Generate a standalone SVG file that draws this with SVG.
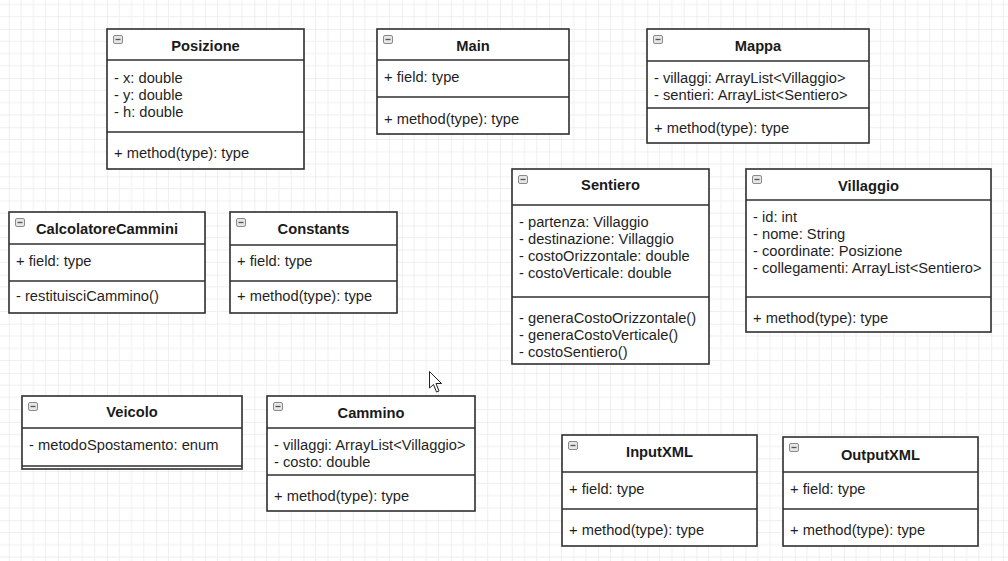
<svg xmlns="http://www.w3.org/2000/svg" width="1008" height="561" viewBox="0 0 1008 561">
<defs>
<style>
.box{fill:#ffffff;stroke:#2f2f2f;stroke-width:1.6}
.div{stroke:#2f2f2f;stroke-width:1.6}
.t{font-family:"Liberation Sans",Arial,sans-serif;font-size:14.7px;font-weight:bold;fill:#1a1a1a;text-anchor:middle}
.a{font-family:"Liberation Sans",Arial,sans-serif;font-size:14.7px;fill:#1f1f1f}
.ic{fill:#e6e6e6;stroke:#8a8a8a;stroke-width:1}
.icm{stroke:#555;stroke-width:1.3}
</style>
<pattern id="grid" x="8.76" y="29" width="49.12" height="49.12" patternUnits="userSpaceOnUse">
<path d="M12.28 0V49.12M24.56 0V49.12M36.84 0V49.12M0 12.28H49.12M0 24.56H49.12M0 36.84H49.12" stroke="#efefef" stroke-width="1" fill="none"/>
<path d="M0 0V49.12M0 0H49.12" stroke="#e0e0e0" stroke-width="1" fill="none"/>
</pattern>
<symbol id="icon" viewBox="0 0 10 9" width="10" height="9">
<rect x="0.5" y="0.5" width="9" height="8" rx="1.5" class="ic"/>
<path d="M2.5 4.5H7.5" class="icm"/>
</symbol>
</defs>
<rect x="0" y="0" width="1008" height="561" fill="#ffffff"/>
<rect x="0" y="0" width="1008" height="561" fill="url(#grid)"/>

<g id="connectors"></g>

<g id="Posizione">
<rect class="box" x="107" y="29" width="197" height="140"/>
<line class="div" x1="107" y1="60" x2="304" y2="60"/>
<line class="div" x1="107" y1="132" x2="304" y2="132"/>
<use href="#icon" x="113" y="35"/>
<text class="t" x="205.5" y="51">Posizione</text>
<text class="a" x="114" y="83">- x: double</text>
<text class="a" x="114" y="100">- y: double</text>
<text class="a" x="114" y="117">- h: double</text>
<text class="a" x="114" y="158">+ method(type): type</text>
</g>

<g id="Main">
<rect class="box" x="377" y="29" width="192" height="105"/>
<line class="div" x1="377" y1="60" x2="569" y2="60"/>
<line class="div" x1="377" y1="97" x2="569" y2="97"/>
<use href="#icon" x="383" y="35"/>
<text class="t" x="473" y="51">Main</text>
<text class="a" x="384" y="82">+ field: type</text>
<text class="a" x="384" y="124">+ method(type): type</text>
</g>

<g id="Mappa">
<rect class="box" x="647" y="29" width="222" height="114"/>
<line class="div" x1="647" y1="61" x2="869" y2="61"/>
<line class="div" x1="647" y1="108" x2="869" y2="108"/>
<use href="#icon" x="653" y="35"/>
<text class="t" x="758" y="51">Mappa</text>
<text class="a" x="654" y="83">- villaggi: ArrayList&lt;Villaggio&gt;</text>
<text class="a" x="654" y="100">- sentieri: ArrayList&lt;Sentiero&gt;</text>
<text class="a" x="654" y="133">+ method(type): type</text>
</g>

<g id="CalcolatoreCammini">
<rect class="box" x="9" y="212" width="196" height="101"/>
<line class="div" x1="9" y1="244" x2="205" y2="244"/>
<line class="div" x1="9" y1="281" x2="205" y2="281"/>
<use href="#icon" x="15" y="218"/>
<text class="t" x="107" y="234">CalcolatoreCammini</text>
<text class="a" x="16" y="266">+ field: type</text>
<text class="a" x="16" y="301">- restituisciCammino()</text>
</g>

<g id="Constants">
<rect class="box" x="230" y="212" width="167" height="101"/>
<line class="div" x1="230" y1="245" x2="397" y2="245"/>
<line class="div" x1="230" y1="281" x2="397" y2="281"/>
<use href="#icon" x="236" y="218"/>
<text class="t" x="313.5" y="234">Constants</text>
<text class="a" x="237" y="266">+ field: type</text>
<text class="a" x="237" y="301">+ method(type): type</text>
</g>

<g id="Sentiero">
<rect class="box" x="512" y="169" width="197" height="195"/>
<line class="div" x1="512" y1="205" x2="709" y2="205"/>
<line class="div" x1="512" y1="297" x2="709" y2="297"/>
<use href="#icon" x="518" y="175"/>
<text class="t" x="610.5" y="190">Sentiero</text>
<text class="a" x="519" y="227">- partenza: Villaggio</text>
<text class="a" x="519" y="244">- destinazione: Villaggio</text>
<text class="a" x="519" y="261">- costoOrizzontale: double</text>
<text class="a" x="519" y="278">- costoVerticale: double</text>
<text class="a" x="519" y="323">- generaCostoOrizzontale()</text>
<text class="a" x="519" y="340">- generaCostoVerticale()</text>
<text class="a" x="519" y="357">- costoSentiero()</text>
</g>

<g id="Villaggio">
<rect class="box" x="746" y="169" width="245" height="163"/>
<line class="div" x1="746" y1="200" x2="991" y2="200"/>
<line class="div" x1="746" y1="297" x2="991" y2="297"/>
<use href="#icon" x="752" y="175"/>
<text class="t" x="868.5" y="191">Villaggio</text>
<text class="a" x="753" y="222">- id: int</text>
<text class="a" x="753" y="239">- nome: String</text>
<text class="a" x="753" y="256">- coordinate: Posizione</text>
<text class="a" x="753" y="273">- collegamenti: ArrayList&lt;Sentiero&gt;</text>
<text class="a" x="753" y="323">+ method(type): type</text>
</g>

<g id="Veicolo">
<rect class="box" x="22" y="396" width="220" height="73"/>
<line class="div" x1="22" y1="428" x2="242" y2="428"/>
<line class="div" x1="22" y1="466" x2="242" y2="466"/>
<use href="#icon" x="28" y="402"/>
<text class="t" x="132" y="417">Veicolo</text>
<text class="a" x="29" y="450">- metodoSpostamento: enum</text>
</g>

<g id="Cammino">
<rect class="box" x="267" y="396" width="208" height="115"/>
<line class="div" x1="267" y1="428" x2="475" y2="428"/>
<line class="div" x1="267" y1="475" x2="475" y2="475"/>
<use href="#icon" x="273" y="402"/>
<text class="t" x="371" y="418">Cammino</text>
<text class="a" x="274" y="450">- villaggi: ArrayList&lt;Villaggio&gt;</text>
<text class="a" x="274" y="467">- costo: double</text>
<text class="a" x="274" y="501">+ method(type): type</text>
</g>

<g id="InputXML">
<rect class="box" x="562" y="435" width="195" height="111"/>
<line class="div" x1="562" y1="472" x2="757" y2="472"/>
<line class="div" x1="562" y1="509" x2="757" y2="509"/>
<use href="#icon" x="568" y="441"/>
<text class="t" x="659.5" y="457">InputXML</text>
<text class="a" x="569" y="494">+ field: type</text>
<text class="a" x="569" y="535">+ method(type): type</text>
</g>

<g id="OutputXML">
<rect class="box" x="783" y="437" width="195" height="109"/>
<line class="div" x1="783" y1="472" x2="978" y2="472"/>
<line class="div" x1="783" y1="509" x2="978" y2="509"/>
<use href="#icon" x="789" y="443"/>
<text class="t" x="880.5" y="460">OutputXML</text>
<text class="a" x="790" y="494">+ field: type</text>
<text class="a" x="790" y="535">+ method(type): type</text>
</g>

<g id="cursor">
<path d="M429.5 371.5 L429.5 388 L433.5 384.5 L436.5 392 L439 391 L436 383.5 L441.5 383.5 Z" fill="#ffffff" stroke="#222" stroke-width="1" stroke-linejoin="round"/>
</g>
</svg>
